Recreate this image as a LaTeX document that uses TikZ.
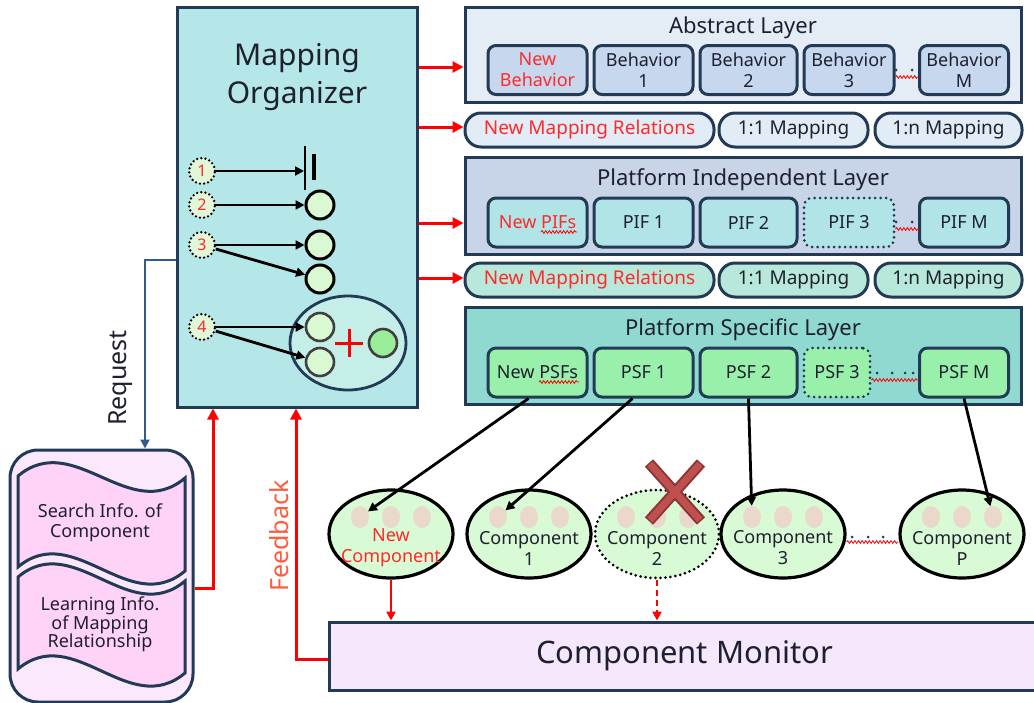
\documentclass[tikz,border=0pt]{standalone}
\usepackage{fontspec}
\setmainfont{Noto Sans}
\usetikzlibrary{arrows.meta,decorations.pathmorphing,calc,shapes.geometric}

\newcommand{\fsz}[2]{\fontsize{#1}{#2}\selectfont}

\definecolor{navy}{HTML}{223A56}
\definecolor{ink}{HTML}{1E2030}
\definecolor{orgfill}{HTML}{B5E6E8}
\definecolor{alfill}{HTML}{E4ECF6}
\definecolor{bhfill}{HTML}{C6D7EE}
\definecolor{pilfill}{HTML}{C8D5E9}
\definecolor{piffill}{HTML}{B0E4E6}
\definecolor{pslfill}{HTML}{8FD9D1}
\definecolor{psffill}{HTML}{98F0AA}
\definecolor{relA}{HTML}{E2ECF6}
\definecolor{relB}{HTML}{B8E8DA}
\definecolor{compfill}{HTML}{D8FAD4}
\definecolor{dotfill}{HTML}{EBD8CC}
\definecolor{monfill}{HTML}{F6E8FC}
\definecolor{dbouter}{HTML}{FCE8FC}
\definecolor{dbinner}{HTML}{FFD2F8}
\definecolor{reqblue}{HTML}{2E5C8E}
\definecolor{fbtext}{HTML}{FF5A3C}
\definecolor{tgtfill}{HTML}{DAF8D2}
\definecolor{grpfill}{HTML}{C6EEE8}
\definecolor{grnfill}{HTML}{99EE99}
\definecolor{numfill}{HTML}{E2F6D8}
\definecolor{xfill}{HTML}{BF5050}
\definecolor{xedge}{HTML}{8E3434}
\definecolor{newred}{HTML}{FF2A2A}

\begin{document}
\begin{tikzpicture}[x=1pt,y=-1pt,
  every node/.style={text=ink},
  layer/.style={draw=navy, line width=3pt, inner sep=0pt},
  fbox/.style={draw=navy, line width=3pt, rounded corners=8pt, inner sep=0pt,
    align=center, font=\fsz{18}{21}, minimum height=49pt},
  dotbox/.style={fbox, dash pattern=on 0pt off 5.5pt, line cap=round, line width=3pt},
  relbox/.style={draw=navy, line width=3pt, rounded corners=16pt, minimum height=34pt,
    inner sep=0pt, font=\fsz{19}{20}},
  comp/.style={ellipse, draw=black, line width=3.2pt, fill=compfill,
    minimum width=124pt, minimum height=88pt, inner sep=0pt},
  compdot/.style={ellipse, fill=dotfill, minimum width=18pt, minimum height=22pt, inner sep=0pt},
  complabel/.style={align=center, font=\fsz{18}{21}},
  numc/.style={circle, draw=black, line width=2.6pt, dash pattern=on 0pt off 4.2pt,
    line cap=round, fill=numfill, minimum size=26pt, inner sep=0pt, text=newred, font=\fsz{16}{16}},
  tgt/.style={circle, draw=black, line width=3pt, fill=tgtfill, minimum size=28pt, inner sep=0pt},
  sub/.style={circle, draw=black!75, line width=2.6pt, fill=tgtfill, minimum size=28pt, inner sep=0pt},
  blk/.style={line width=2.8pt, -{Triangle[length=9pt,width=9pt]}},
  redarr/.style={red, line width=3pt, -{Triangle[length=11pt,width=11pt]}},
  thinred/.style={red, line width=2.4pt, -{Triangle[length=9pt,width=9pt]}},
  squig/.style={red, line width=0.8pt, decorate, decoration={snake, amplitude=1.4pt, segment length=3.6pt}},
  pdot/.style={circle, fill=navy, inner sep=0pt, minimum size=3pt},
]
\clip (0,0) rectangle (1034,702);
\useasboundingbox (0,0) rectangle (1034,702);

% ---------- Mapping Organizer ----------
\node[layer, fill=orgfill, minimum width=240pt, minimum height=400pt] (mo) at (297,207) {};
\node[font=\fsz{30}{38}, align=center] (mot) at (297,77) {Mapping\\Organizer};

\node[numc] (n1) at (202,171) {1};
\node[numc] (n2) at (202,205) {2};
\node[numc] (n3) at (202,245) {3};
\node[numc] (n4) at (202,327) {4};

% stop symbol
\coordinate (bar) at (304,171);
\draw[line width=2.8pt] (305,146) -- (305,190);
\draw[line width=4.2pt] (314,154) -- (314,180);

\node[tgt] (t2) at (320,205) {};
\node[tgt] (t3a) at (320,245) {};
\node[tgt] (t3b) at (320,279) {};

\node[ellipse, draw=navy, line width=2.8pt, fill=grpfill, minimum width=116pt,
      minimum height=94pt, inner sep=0pt] (grp) at (348,343) {};
\node[sub] (g1) at (320,327) {};
\node[sub] (g2) at (320,362) {};
\node[sub, fill=grnfill] (g3) at (383,343) {};
\draw[red, line width=3pt] (335,343) -- (363,343) (349,329) -- (349,357);

\draw[blk] (n1) -- (bar);
\draw[blk] (n2) -- (t2);
\draw[blk] (n3) -- (t3a);
\draw[blk] (n3) -- (t3b);
\draw[blk] (n4) -- (g1);
\draw[blk] (n4) -- (g2);

% ---------- Abstract Layer ----------
\node[layer, fill=alfill, minimum width=556pt, minimum height=95pt] (al) at (743,54.5) {};
\node[font=\fsz{22}{22}] (alt) at (743,28) {Abstract Layer};
\node[fbox, fill=bhfill, minimum width=99pt, text=newred] (b0) at (537.5,70) {New\\Behavior};
\node[fbox, fill=bhfill, minimum width=99pt] (b1) at (643.5,70) {Behavior\\1};
\node[fbox, fill=bhfill, minimum width=97pt] (b2) at (748.5,70) {Behavior\\2};
\node[fbox, fill=bhfill, minimum width=90pt] (b3) at (849,70) {Behavior\\3};
\node[fbox, fill=bhfill, minimum width=89pt] (bm) at (964,70) {Behavior\\M};
\draw[squig] (b3.east |- 0,77) -- (bm.west |- 0,77);
\node[pdot] at (896,70) {};
\node[pdot] at (912,70) {};

% ---------- mapping relations (upper) ----------
\node[relbox, fill=relA, minimum width=249pt, text=newred] (r1n) at (589.5,130) {New Mapping Relations};
\node[relbox, fill=relA, minimum width=149pt] (r11) at (793.5,130) {1:1 Mapping};
\node[relbox, fill=relA, minimum width=147pt] (r1m) at (948.5,130) {1:n Mapping};

% ---------- Platform Independent Layer ----------
\node[layer, fill=pilfill, minimum width=556pt, minimum height=97pt] (pil) at (743,205.5) {};
\node[font=\fsz{22}{22}] (pilt) at (743,180) {Platform Independent Layer};
\node[fbox, fill=piffill, minimum width=99pt, text=newred] (p0) at (537.5,222.5) {New PIFs};
\node[fbox, fill=piffill, minimum width=99pt] (p1) at (643.5,222.5) {PIF 1};
\node[fbox, fill=piffill, minimum width=97pt] (p2) at (748.5,222.5) {PIF 2};
\node[dotbox, fill=piffill, minimum width=90pt] (p3) at (849,222.5) {PIF 3};
\node[fbox, fill=piffill, minimum width=89pt] (pm) at (964,222.5) {PIF M};
\draw[squig] (541,232) -- (577,232);
\draw[squig] (p3.east |- 0,229) -- (pm.west |- 0,229);
\node[pdot] at (896,222) {};
\node[pdot] at (912,222) {};

% ---------- mapping relations (lower) ----------
\node[relbox, fill=relB, minimum width=249pt, text=newred] (r2n) at (589.5,280) {New Mapping Relations};
\node[relbox, fill=relB, minimum width=149pt] (r21) at (793.5,280) {1:1 Mapping};
\node[relbox, fill=relB, minimum width=147pt] (r2m) at (948.5,280) {1:n Mapping};

% ---------- Platform Specific Layer ----------
\node[layer, fill=pslfill, minimum width=556pt, minimum height=97pt] (psl) at (743,355.5) {};
\node[font=\fsz{22}{22}] (pslt) at (743,330) {Platform Specific Layer};
\node[fbox, fill=psffill, minimum width=99pt] (s0) at (537.5,372.5) {New PSFs};
\node[fbox, fill=psffill, minimum width=99pt] (s1) at (643.5,372.5) {PSF 1};
\node[fbox, fill=psffill, minimum width=97pt] (s2) at (748.5,372.5) {PSF 2};
\node[dotbox, fill=psffill, minimum width=66pt] (s3) at (837,372.5) {PSF 3};
\node[fbox, fill=psffill, minimum width=89pt] (sm) at (964,372.5) {PSF M};
\draw[squig] (539,382) -- (579,382);
\draw[squig] (s3.east |- 0,380) -- (sm.west |- 0,380);
\foreach \px in {877,892,905,913} \node[pdot] at (\px,373) {};

% ---------- organizer -> layers ----------
\draw[redarr] (mo.east |- 0,67) -- (al.west |- 0,67);
\draw[redarr] (mo.east |- 0,127) -- (r1n.west |- 0,127);
\draw[redarr] (mo.east |- 0,223) -- (pil.west |- 0,223);
\draw[redarr] (mo.east |- 0,278) -- (r2n.west |- 0,278);

% ---------- components ----------
\node[comp] (c0) at (391,534) {};
\node[comp] (c1) at (529,534) {};
\node[comp, dash pattern=on 0pt off 5pt, line cap=round, line width=3pt] (c2) at (657,534) {};
\node[comp] (c3) at (783,534) {};
\node[comp] (cp) at (962,534) {};
\foreach \c in {c0,c1,c2,c3,cp}{
  \node[compdot] (\c a) at ($(\c.center)+(-31,-17)$) {};
  \node[compdot] (\c b) at ($(\c.center)+(0,-17)$) {};
  \node[compdot] (\c c) at ($(\c.center)+(31,-17)$) {};
}
\node[complabel, text=newred] (c0t) at (391,548) {New\\Component};
\node[complabel] (c1t) at (529,548) {Component\\1};
\node[complabel] (c2t) at (657,548) {Component\\2};
\node[complabel] (c3t) at (783,548) {Component\\3};
\node[complabel] (cpt) at (962,548) {Component\\P};
\draw[squig] (c3.east |- 0,542) -- (cp.west |- 0,542);
\foreach \px in {852,868,883} \node[pdot] at (\px,537) {};

% removed component mark
\draw[xedge, line width=11pt] (649,463) -- (701,521) (701,463) -- (649,521);
\draw[xfill, line width=7pt] (650,464) -- (700,520) (700,464) -- (650,520);

% ---------- PSF -> component links ----------
\draw[blk] ($(s0.south)+(-9,0)$) -- (c0a);
\draw[blk] ($(s1.south)+(-11,0)$) -- (c1a);
\draw[blk] (s2.south) -- (c3a);
\draw[blk] (sm.south) -- (cpc);

% ---------- Component Monitor ----------
\node[draw=navy, line width=3pt, fill=monfill, minimum width=711pt, minimum height=68pt,
      inner sep=0pt, font=\fsz{31}{31}] (cm) at (684.5,656) {Component Monitor};
\draw[thinred] (c0.south) -- (c0.south |- cm.north);
\draw[thinred, dash pattern=on 6pt off 4pt] (c2.south) -- (c2.south |- cm.north);

% ---------- repository ----------
\node[draw=navy, line width=3pt, rounded corners=28pt, fill=dbouter,
      minimum width=183pt, minimum height=252pt, inner sep=0pt] (db) at (101.5,576) {};
\draw[navy, line width=3pt, fill=dbinner]
  (18,476) .. controls (74,429) and (129,525) .. (185,478)
  -- (185,571) .. controls (129,618) and (74,520) .. (18,567) -- cycle;
\draw[navy, line width=3pt, fill=dbinner]
  (18,577) .. controls (74,530) and (129,628) .. (185,581)
  -- (185,673) .. controls (129,720) and (74,622) .. (18,669) -- cycle;
\node[font=\fsz{18}{20}, align=center] (dbt1) at (100,523) {Search Info. of\\Component};
\node[font=\fsz{18}{18}, align=center] (dbt2) at (100,624) {Learning Info.\\of Mapping\\Relationship};

% ---------- request / feedback paths ----------
\coordinate (rq) at (145,260);
\draw[reqblue, line width=2.5pt, -{Triangle[length=9pt,width=9pt]}] (mo.west |- rq) -| (db.north -| rq);
\node[rotate=90, font=\fsz{25}{25}] (rqt) at (121,378) {Request};

\coordinate (lk) at (213,588);
\draw[redarr] (db.east |- lk) -| (mo.south -| lk);

\coordinate (fb) at (296,659);
\draw[redarr] (cm.west |- fb) -| (mo.south -| fb);
\node[rotate=90, font=\fsz{25}{25}, text=fbtext] (fbt) at (279,536) {Feedback};

\end{tikzpicture}
\end{document}
